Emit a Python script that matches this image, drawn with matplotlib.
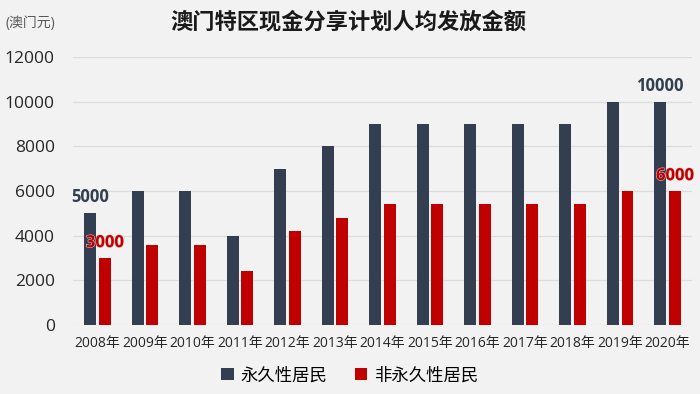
import matplotlib
matplotlib.use("Agg")
import matplotlib.pyplot as plt
import matplotlib.patheffects as pe
import numpy as np

plt.rcParams["font.family"] = ["Open Sans", "Noto Sans CJK SC", "DejaVu Sans"]

years = ["2008年", "2009年", "2010年", "2011年", "2012年", "2013年", "2014年",
         "2015年", "2016年", "2017年", "2018年", "2019年", "2020年"]
permanent = [5000, 6000, 6000, 4000, 7000, 8000, 9000, 9000, 9000, 9000, 9000, 10000, 10000]
non_permanent = [3000, 3600, 3600, 2400, 4200, 4800, 5400, 5400, 5400, 5400, 5400, 6000, 6000]
y_ticks = [0, 2000, 4000, 6000, 8000, 10000, 12000]

DARK = "#333F50"
RED = "#C00000"
BG = "#F2F2F2"


def main():
    fig = plt.figure(figsize=(7, 3.94), dpi=100, facecolor=BG)
    ax = fig.add_axes([0.104, 0.175, 0.885, 0.68], facecolor=BG)

    x = np.arange(len(years))
    w = 0.25
    off = 0.155
    b1 = ax.bar(x - off, permanent, w, color=DARK, label="永久性居民", zorder=3)
    b2 = ax.bar(x + off, non_permanent, w, color=RED, label="非永久性居民", zorder=3)

    # value labels only on first and last year
    halo = [pe.withStroke(linewidth=0.8, foreground="#eab8b8")]
    for i in (0, len(years) - 1):
        ax.annotate(f"{permanent[i]}", (x[i] - off, permanent[i]), xytext=(0, 11.5),
                    textcoords="offset points", ha="center", va="center",
                    fontsize=12, fontweight="bold", color=DARK, zorder=4)
        ax.annotate(f"{non_permanent[i]}", (x[i] + off, non_permanent[i]), xytext=(0, 11.5),
                    textcoords="offset points", ha="center", va="center",
                    fontsize=12, fontweight="bold", color=RED, zorder=4,
                    path_effects=halo)

    ax.set_xlim(-0.52, len(years) - 0.48)
    ax.set_ylim(0, 12000)
    ax.set_yticks(y_ticks)
    ax.set_yticklabels([str(v) for v in y_ticks], fontsize=12.5, color="#262626")
    ax.set_xticks(x)
    ax.set_xticklabels(years, fontsize=10, color="#262626")
    ax.tick_params(axis="y", length=0, pad=13)
    ax.tick_params(axis="x", length=0, pad=8)
    ax.grid(axis="y", color="#DCDCDC", linewidth=0.9, zorder=0)
    for s in ax.spines.values():
        s.set_visible(False)

    fig.text(0.497, 0.944, "澳门特区现金分享计划人均发放金额", ha="center", va="center",
             fontsize=16, fontweight="bold", color="#1a1a1a",
             family=["Noto Sans CJK SC", "DejaVu Sans"])
    fig.text(0.008, 0.94, "(澳门元)", ha="left", va="center", fontsize=10, color="#595959")

    fig.legend(handles=[b1, b2], loc="center", bbox_to_anchor=(0.5, 0.045), ncol=2,
               frameon=False, fontsize=12.5, handlelength=0.7, handleheight=0.7,
               handletextpad=0.4, columnspacing=1.6)

    fig.savefig("out.png", dpi=100, facecolor=BG)


if __name__ == "__main__":
    main()
